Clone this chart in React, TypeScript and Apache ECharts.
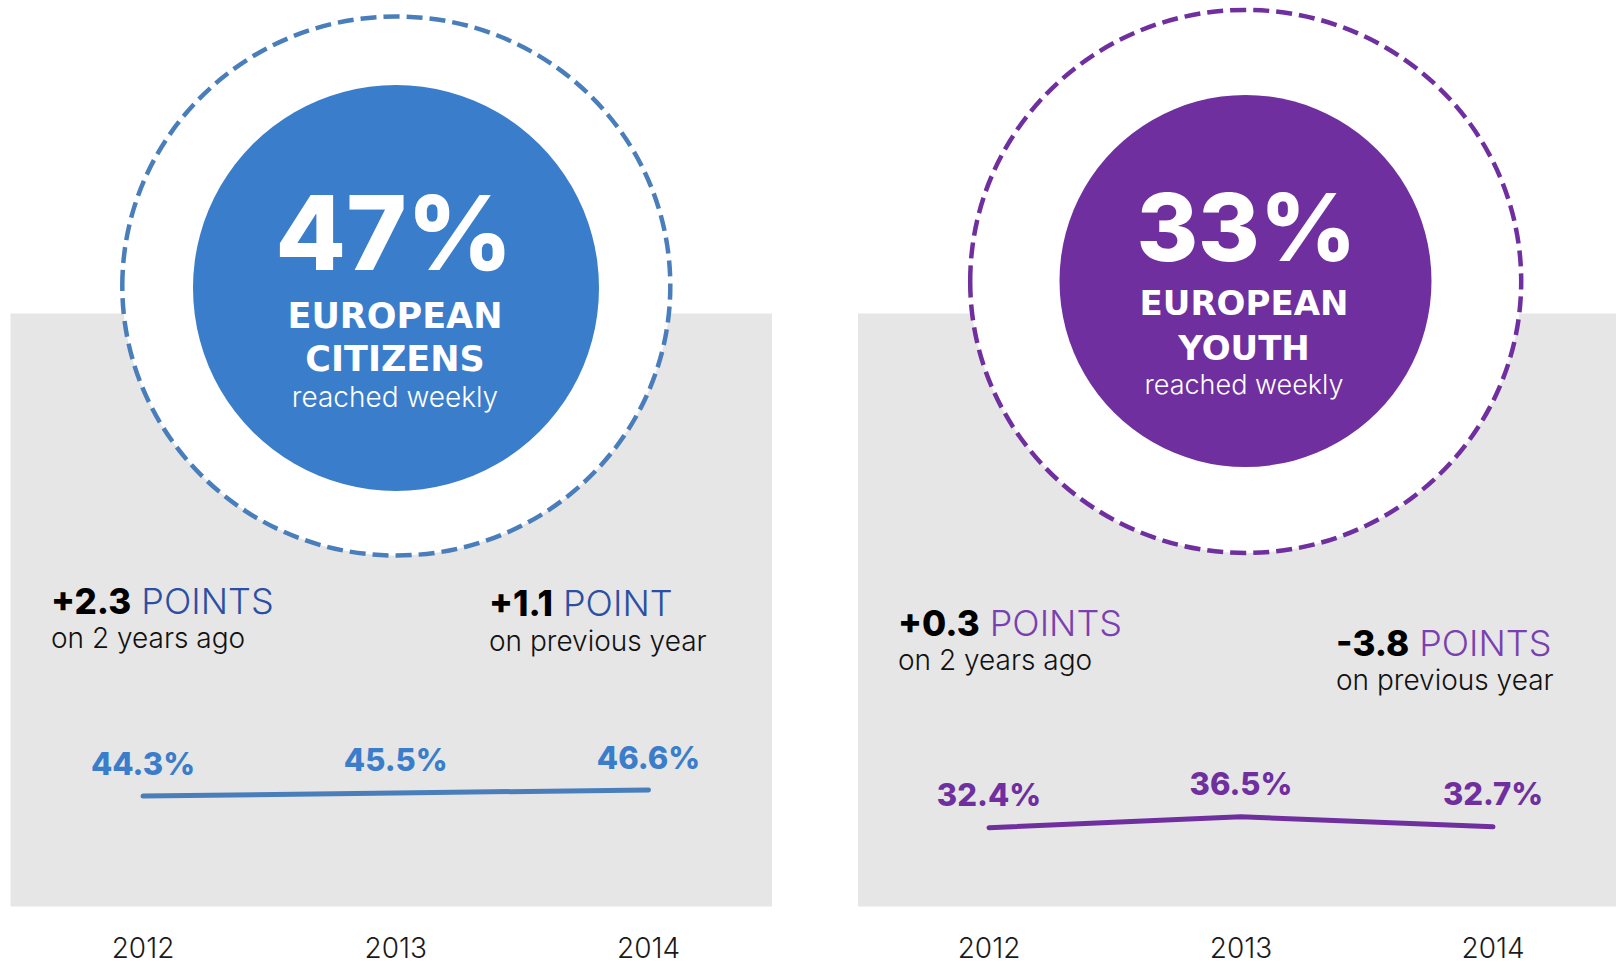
import React, { useEffect, useRef } from "react";
import * as echarts from "echarts";

const years = ["2012", "2013", "2014"];
const citizensValues = [44.3, 45.5, 46.6];
const youthValues = [32.4, 36.5, 32.7];

const citizensHeadline = "47%";
const youthHeadline = "33%";
const citizensTitle = ["EUROPEAN", "CITIZENS"];
const youthTitle = ["EUROPEAN", "YOUTH"];
const subtitle = "reached weekly";

const citizensDeltas = [
  { value: "+2.3", unit: "POINTS", note: "on 2 years ago" },
  { value: "+1.1", unit: "POINT", note: "on previous year" },
];
const youthDeltas = [
  { value: "+0.3", unit: "POINTS", note: "on 2 years ago" },
  { value: "-3.8", unit: "POINTS", note: "on previous year" },
];

const BLUE = "#3a7dcb";
const BLUE_LINE = "#4a7ebb";
const BLUE_DARK = "#2b4fa3";
const PURPLE = "#6f2f9f";
const PURPLE_LIGHT = "#7a3fb0";
const GRAY = "#e6e6e6";
const FONT = "Inter, Lato, 'Open Sans', sans-serif";
const WIDE_BOLD = "'DejaVu Sans', Inter, sans-serif";

function txt(x: number, y: number, text: string, size: number, weight: number, fill: string, align = "center", family = FONT) {
  return {
    type: "text",
    x,
    y,
    z: 5,
    style: {
      text,
      fontSize: size,
      fontWeight: weight,
      fontFamily: family,
      fill,
      align,
      verticalAlign: "middle",
    },
  };
}

function delta(x: number, y: number, d: { value: string; unit: string }, unitColor: string) {
  return {
    type: "text",
    x,
    y,
    z: 5,
    style: {
      text: `{a|${d.value}}{b|${d.unit}}`,
      align: "left",
      verticalAlign: "middle",
      fontFamily: FONT,
      rich: {
        a: { fontSize: 35, fontWeight: 800, fill: "#000", fontFamily: FONT },
        b: { fontSize: 36, fontWeight: 300, fill: unitColor, fontFamily: FONT, padding: [0, 0, 0, 10] },
      },
    },
  };
}

export default function App() {
  const ref = useRef<HTMLDivElement>(null);
  useEffect(() => {
    if (!ref.current) return;
    const chart = echarts.init(ref.current, undefined, { renderer: "svg" });
    const labelStyle = (color: string) => ({
      show: true,
      position: "top",
      distance: 17,
      formatter: (p: any) => `${p.value}%`,
      fontSize: 31,
      fontWeight: 800,
      fontFamily: FONT,
      color,
    });
    const xAxisCommon = {
      type: "category",
      data: years,
      boundaryGap: false,
      axisLine: { show: false },
      axisTick: { show: false },
      splitLine: { show: false },
      axisLabel: { fontSize: 28, fontWeight: 300, fontFamily: FONT, color: "#1a1a1a", margin: 24, lineHeight: 20 },
    };
    const yAxisCommon = { type: "value", min: 0, max: 100, show: false };
    chart.setOption({
      animation: false,
      backgroundColor: "#ffffff",
      grid: [
        { left: 143, width: 505.5, top: 648.5, height: 265, containLabel: false },
        { left: 989, width: 504, top: 648.5, height: 265, containLabel: false },
      ],
      xAxis: [
        { ...xAxisCommon, gridIndex: 0 },
        { ...xAxisCommon, gridIndex: 1 },
      ],
      yAxis: [
        { ...yAxisCommon, gridIndex: 0 },
        { ...yAxisCommon, gridIndex: 1 },
      ],
      series: [
        {
          type: "line",
          xAxisIndex: 0,
          yAxisIndex: 0,
          data: citizensValues,
          symbol: "circle",
          symbolSize: 1,
          itemStyle: { color: BLUE_LINE },
          lineStyle: { color: BLUE_LINE, width: 5, cap: "round" },
          label: labelStyle(BLUE),
          z: 10,
        },
        {
          type: "line",
          xAxisIndex: 1,
          yAxisIndex: 1,
          data: youthValues,
          symbol: "circle",
          symbolSize: 1,
          itemStyle: { color: PURPLE },
          lineStyle: { color: PURPLE, width: 5, cap: "round" },
          label: labelStyle(PURPLE),
          z: 10,
        },
      ],
      graphic: {
        elements: [
          { type: "rect", z: 0, shape: { x: 10.5, y: 313.5, width: 761.5, height: 593 }, style: { fill: GRAY } },
          { type: "rect", z: 0, shape: { x: 858, y: 313.5, width: 758, height: 593 }, style: { fill: GRAY } },
          {
            type: "ellipse",
            z: 1,
            shape: { cx: 396.3, cy: 286, rx: 274, ry: 269.5 },
            style: { fill: "#fff", stroke: BLUE_LINE, lineWidth: 4.5, lineDash: [16, 7] },
          },
          { type: "circle", z: 2, shape: { cx: 396, cy: 288, r: 203 }, style: { fill: BLUE } },
          {
            type: "ellipse",
            z: 1,
            shape: { cx: 1245.7, cy: 281.4, rx: 275.5, ry: 271.5 },
            style: { fill: "#fff", stroke: PURPLE, lineWidth: 4.5, lineDash: [16, 7] },
          },
          { type: "circle", z: 2, shape: { cx: 1245.5, cy: 281, r: 186 }, style: { fill: PURPLE } },
          txt(394, 232, citizensHeadline, 103, 800, "#fff"),
          txt(395, 316, citizensTitle[0], 35, 700, "#fff", "center", WIDE_BOLD),
          txt(395, 359, citizensTitle[1], 35, 700, "#fff", "center", WIDE_BOLD),
          txt(395, 396.5, subtitle, 28, 300, "#fff"),
          txt(1246.5, 227, youthHeadline, 94, 800, "#fff"),
          txt(1244, 303, youthTitle[0], 34, 700, "#fff", "center", WIDE_BOLD),
          txt(1244, 347.5, youthTitle[1], 34, 700, "#fff", "center", WIDE_BOLD),
          txt(1244, 384.5, subtitle, 27, 300, "#fff"),
          delta(51, 600.5, citizensDeltas[0], BLUE_DARK),
          txt(51, 638, citizensDeltas[0].note, 28, 300, "#111", "left"),
          delta(489, 603, citizensDeltas[1], BLUE_DARK),
          txt(489, 641, citizensDeltas[1].note, 28, 300, "#111", "left"),
          delta(898, 622.5, youthDeltas[0], PURPLE_LIGHT),
          txt(898, 660, youthDeltas[0].note, 28, 300, "#111", "left"),
          delta(1336, 643, youthDeltas[1], PURPLE_LIGHT),
          txt(1336, 680, youthDeltas[1].note, 28, 300, "#111", "left"),
        ],
      },
    });
    return () => chart.dispose();
  }, []);
  return <div ref={ref} style={{ position: "fixed", left: 0, top: 0, width: 1616, height: 963 }} />;
}
